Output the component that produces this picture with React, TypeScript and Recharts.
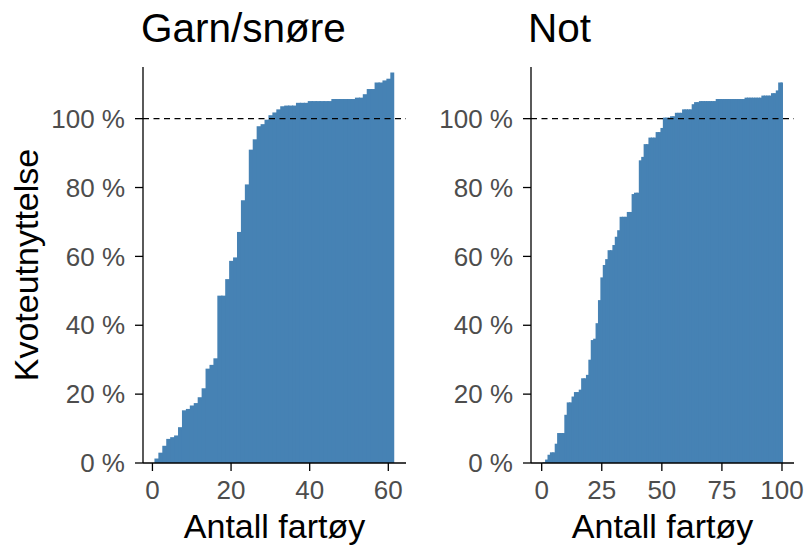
import React from 'react';
import { BarChart, Bar, XAxis, YAxis, ReferenceLine } from 'recharts';

// Kvoteutnyttelse (%) per fartøy, sortert stigende
const garnUtnyttelse = [
    1.3, 3.0, 5.0, 7.0, 7.5, 8.0, 10.4, 15.3, 15.7, 16.7,
    17.4, 19.1, 21.7, 27.4, 28.5, 30.4, 48.6, 48.6, 53.4, 58.7,
    59.7, 67.1, 76.3, 80.9, 91.0, 94.0, 97.8, 98.4, 99.7, 101.0,
    101.8, 102.7, 103.6, 103.8, 103.8, 103.8, 104.6, 104.6, 104.6, 105.1,
    105.1, 105.1, 105.1, 105.1, 105.1, 105.7, 105.7, 105.7, 105.7, 105.7,
    105.7, 106.1, 106.1, 107.1, 108.6, 108.6, 110.5, 110.5, 111.1, 111.6,
    113.4,
];

const notUtnyttelse = [
    0.2, 1.0, 2.4, 3.1, 3.1, 5.6, 8.7, 8.7, 8.7, 14.0,
    17.6, 17.6, 19.3, 20.6, 20.6, 21.3, 24.6, 24.6, 25.6, 30.0,
    35.7, 36.1, 40.6, 47.3, 53.9, 57.5, 59.2, 61.8, 61.8, 63.3,
    65.7, 67.6, 71.5, 71.5, 71.5, 72.9, 72.9, 78.1, 78.5, 78.5,
    87.9, 88.9, 92.6, 92.6, 94.5, 94.5, 94.5, 96.1, 96.1, 97.3,
    100.3, 100.3, 100.3, 100.7, 100.7, 101.7, 101.7, 101.7, 102.7, 102.7,
    102.7, 102.7, 104.2, 104.8, 104.8, 105.1, 105.1, 105.1, 105.1, 105.1,
    105.1, 105.1, 105.7, 105.7, 105.7, 105.7, 105.7, 105.7, 105.7, 105.7,
    105.7, 105.7, 105.7, 105.7, 106.1, 106.1, 106.1, 106.1, 106.1, 106.1,
    106.1, 106.7, 106.7, 106.7, 106.7, 107.4, 107.4, 108.2, 110.5, 110.5,
];

const yTicks = [0, 20, 40, 60, 80, 100];
const garnXTicks = [0, 20, 40, 60];
const notXTicks = [0, 25, 50, 75, 100];

const FONT = '"Liberation Sans", Arial, sans-serif';
const BAR = '#4682B4';

const toRows = (values: number[]) => values.map((v, i) => ({ fartoy: i + 1, utnyttelse: v }));

interface PanelProps {
    values: number[];
    xTicks: number[];
    xDomain: [number, number];
    width: number;
    yAxisWidth: number;
    marginRight: number;
}

const Panel: React.FC<PanelProps> = ({ values, xTicks, xDomain, width, yAxisWidth, marginRight }) => {
    const axisLine = { stroke: '#000', strokeWidth: 1.3 };
    const tick = { fill: '#4D4D4D', fontSize: 26, fontFamily: FONT };
    // one vessel = one unit on the x scale; recharts truncates bar widths to whole pixels,
    // so redraw each bar over its full unit, bleeding right under the next (taller) bar
    const plotWidth = width - yAxisWidth - marginRight;
    const unitPx = plotWidth / (xDomain[1] - xDomain[0]);
    const lastIndex = values.length - 1;
    const fullBar = (p: any) => {
        const left = p.x + p.width / 2 - unitPx / 2;
        const w = p.index === lastIndex ? unitPx : unitPx + 1.2;
        return <rect x={left} y={p.y} width={w} height={Math.max(p.height, 0)} fill={BAR} />;
    };
    return (
        <BarChart
            width={width}
            height={546}
            data={toRows(values)}
            margin={{ top: 67, right: marginRight, bottom: 0, left: 0 }}
            barCategoryGap={0}
            barGap={0}
        >
            <XAxis
                dataKey="fartoy"
                type="number"
                domain={xDomain}
                ticks={xTicks}
                height={83}
                tickSize={8}
                tickMargin={10}
                axisLine={axisLine}
                tickLine={axisLine}
                tick={tick}
            />
            <YAxis
                type="number"
                domain={[0, 115]}
                ticks={yTicks}
                width={yAxisWidth}
                tickSize={8}
                tickMargin={10}
                tickFormatter={(v: number) => `${v} %`}
                axisLine={axisLine}
                tickLine={axisLine}
                tick={tick}
            />
            <Bar dataKey="utnyttelse" fill={BAR} shape={fullBar} isAnimationActive={false} />
            <ReferenceLine y={100} stroke="#000" strokeWidth={1.4} strokeDasharray="6 4.5" />
        </BarChart>
    );
};

export default function App() {
    return (
        <div style={{ position: 'absolute', left: 0, top: 0, width: 804, height: 546, background: '#fff', fontFamily: FONT }}>
            <div style={{ position: 'absolute', left: 0, top: 0 }}>
                <Panel values={garnUtnyttelse} xTicks={garnXTicks} xDomain={[-2.4, 64.5]} width={410} yAxisWidth={143} marginRight={4} />
            </div>
            <div style={{ position: 'absolute', left: 404, top: 0 }}>
                <Panel values={notUtnyttelse} xTicks={notXTicks} xDomain={[-4.45, 105]} width={400} yAxisWidth={127} marginRight={10} />
            </div>
            <svg width={804} height={546} style={{ position: 'absolute', left: 0, top: 0, pointerEvents: 'none' }}>
                <g fontFamily={FONT} fill="#000">
                    <text x={141} y={42} fontSize={40.5}>Garn/snøre</text>
                    <text x={528} y={42} fontSize={40.5}>Not</text>
                    <text x={274.5} y={538} fontSize={34} textAnchor="middle">Antall fartøy</text>
                    <text x={662.5} y={538} fontSize={34} textAnchor="middle">Antall fartøy</text>
                    <text transform="translate(38,265) rotate(-90)" fontSize={34} textAnchor="middle">Kvoteutnyttelse</text>
                </g>
            </svg>
        </div>
    );
}
